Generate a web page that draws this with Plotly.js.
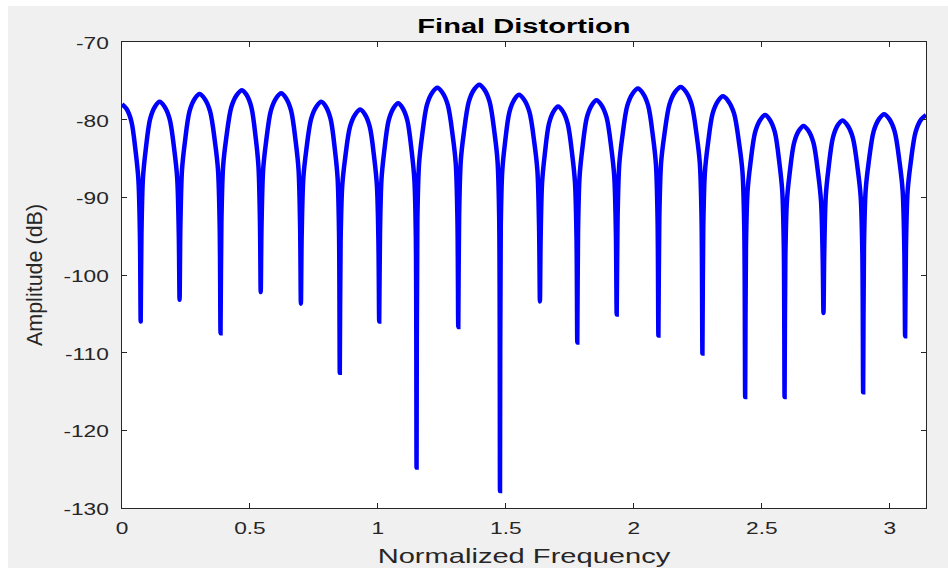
<!DOCTYPE html>
<html>
<head>
<meta charset="utf-8">
<script src="https://cdn.plot.ly/plotly-3.0.1.min.js"></script>
<style>
  html, body { margin: 0; padding: 0; background: #ffffff; width: 948px; height: 568px; overflow: hidden; }
  #chart { position: absolute; left: 8px; top: 6px; width: 940px; height: 562px; }
</style>
</head>
<body>
<div id="chart"></div>
<script>
// Normalized frequency (rad/sample)
const freq = [
  0, 0.0175, 0.0365, 0.054, 0.0642, 0.0701,
  0.073,
  0.0760, 0.0819, 0.0922, 0.110, 0.1292, 0.147, 0.1657, 0.186, 0.2047, 0.2156, 0.2219,
  0.225,
  0.2281, 0.2344, 0.2453, 0.264, 0.2843, 0.303, 0.3227, 0.344, 0.3637, 0.3752, 0.3817,
  0.385,
  0.3884, 0.3951, 0.4068, 0.427, 0.4488, 0.469, 0.4865, 0.5055, 0.523, 0.5332, 0.5391,
  0.542,
  0.5452, 0.5516, 0.5628, 0.582, 0.6028, 0.622, 0.6405, 0.6605, 0.679, 0.6898, 0.6959,
  0.699,
  0.7022, 0.7086, 0.7198, 0.739, 0.7598, 0.779, 0.7963, 0.815, 0.8323, 0.8424, 0.8481,
  0.851,
  0.8542, 0.8606, 0.8718, 0.891, 0.9118, 0.931, 0.9488, 0.968, 0.9858, 0.9961, 1.002,
  1.005,
  1.008, 1.0139, 1.0242, 1.042, 1.0612, 1.079, 1.0963, 1.115, 1.1323, 1.1424, 1.1481,
  1.151,
  1.1542, 1.1607, 1.1721, 1.1915, 1.2126, 1.232, 1.2517, 1.273, 1.2927, 1.3042, 1.3107,
  1.314,
  1.3173, 1.3238, 1.3353, 1.355, 1.3763, 1.396, 1.4154, 1.4365, 1.4559, 1.4673, 1.4738,
  1.477,
  1.480, 1.4859, 1.4962, 1.514, 1.5332, 1.551, 1.5707, 1.592, 1.6117, 1.6232, 1.6297,
  1.633,
  1.6358, 1.6415, 1.6515, 1.6685, 1.687, 1.704, 1.722, 1.7415, 1.7595, 1.770, 1.776,
  1.779,
  1.782, 1.788, 1.7985, 1.8165, 1.836, 1.854, 1.873, 1.8935, 1.9125, 1.9235, 1.9298,
  1.933,
  1.9363, 1.943, 1.9546, 1.9745, 1.9961, 2.016, 2.0352, 2.056, 2.0752, 2.0864, 2.0928,
  2.096,
  2.0995, 2.1064, 2.1186, 2.1395, 2.1621, 2.183, 2.2034, 2.2255, 2.2459, 2.2578, 2.2646,
  2.268,
  2.2712, 2.2776, 2.2888, 2.308, 2.3288, 2.348, 2.3689, 2.3915, 2.4124, 2.4246, 2.4315,
  2.435,
  2.4381, 2.4444, 2.4553, 2.474, 2.4943, 2.513, 2.5312, 2.551, 2.5692, 2.5799, 2.586,
  2.589,
  2.592, 2.5979, 2.6082, 2.626, 2.6452, 2.663, 2.6817, 2.702, 2.7207, 2.7316, 2.7379,
  2.741,
  2.744, 2.7499, 2.7602, 2.778, 2.7972, 2.815, 2.8344, 2.8555, 2.8749, 2.8863, 2.8928,
  2.896,
  2.8993, 2.9058, 2.9173, 2.937, 2.9583, 2.978, 2.9977, 3.019, 3.0387, 3.0502, 3.0567,
  3.060,
  3.0633, 3.0698, 3.0812, 3.1008, 3.122, 3.1416
];

// Amplitude (dB)
const ampDb = [
  -78.0, -78.6, -80.2, -84.3, -87.8, -95.0,
  -106.0,
  -94.7, -87.5, -84.0, -79.9, -78.3, -77.7, -78.3, -79.9, -84.0, -87.5, -94.7,
  -103.2,
  -93.7, -86.5, -83.0, -78.9, -77.3, -76.7, -77.3, -78.9, -83.0, -86.5, -93.7,
  -107.5,
  -93.2, -86.0, -82.5, -78.4, -76.8, -76.2, -76.8, -78.4, -82.5, -86.0, -93.2,
  -102.2,
  -93.6, -86.4, -82.9, -78.8, -77.2, -76.6, -77.2, -78.8, -82.9, -86.4, -93.6,
  -103.7,
  -94.7, -87.5, -84.0, -79.9, -78.3, -77.7, -78.3, -79.9, -84.0, -87.5, -94.7,
  -112.6,
  -95.7, -88.5, -85.0, -80.9, -79.3, -78.7, -79.3, -80.9, -85.0, -88.5, -95.7,
  -106.0,
  -94.9, -87.7, -84.2, -80.1, -78.5, -77.9, -78.5, -80.1, -84.2, -87.7, -94.9,
  -124.8,
  -92.9, -85.7, -82.2, -78.1, -76.5, -75.9, -76.5, -78.1, -82.2, -85.7, -92.9,
  -106.7,
  -92.5, -85.3, -81.8, -77.7, -76.1, -75.5, -76.1, -77.7, -81.8, -85.3, -92.5,
  -127.8,
  -93.8, -86.6, -83.1, -79.0, -77.4, -76.8, -77.4, -79.0, -83.1, -86.6, -93.8,
  -103.4,
  -95.3, -88.1, -84.6, -80.5, -78.9, -78.3, -78.9, -80.5, -84.6, -88.1, -95.3,
  -108.7,
  -94.5, -87.3, -83.8, -79.7, -78.1, -77.5, -78.1, -79.7, -83.8, -87.3, -94.5,
  -105.1,
  -93.0, -85.8, -82.3, -78.2, -76.6, -76.0, -76.6, -78.2, -82.3, -85.8, -93.0,
  -107.8,
  -92.8, -85.6, -82.1, -78.0, -76.4, -75.8, -76.4, -78.0, -82.1, -85.6, -92.8,
  -110.1,
  -94.0, -86.8, -83.3, -79.2, -77.6, -77.0, -77.6, -79.2, -83.3, -86.8, -94.0,
  -115.7,
  -96.4, -89.2, -85.7, -81.6, -80.0, -79.4, -80.0, -81.6, -85.7, -89.2, -96.4,
  -115.7,
  -97.8, -90.6, -87.1, -83.0, -81.4, -80.8, -81.4, -83.0, -87.1, -90.6, -97.8,
  -104.9,
  -97.1, -89.9, -86.4, -82.3, -80.7, -80.1, -80.7, -82.3, -86.4, -89.9, -97.1,
  -115.1,
  -96.3, -89.1, -85.6, -81.5, -79.9, -79.3, -79.9, -81.5, -85.6, -89.1, -96.3,
  -107.9,
  -96.4, -89.2, -85.7, -81.6, -80.0, -79.4
];

const xTickVals = [0, 0.5, 1, 1.5, 2, 2.5, 3];
const xTickText = ["0", "0.5", "1", "1.5", "2", "2.5", "3"];
const yTickVals = [-130, -120, -110, -100, -90, -80, -70];
const yTickText = ["-130", "-120", "-110", "-100", "-90", "-80", "-70"];

const FONT = "Liberation Sans, Arial, Helvetica, sans-serif";
const AXC = "#262626";

const trace = {
  x: freq,
  y: ampDb,
  type: "scatter",
  mode: "lines",
  line: { color: "#0000ff", width: 4.5, shape: "spline", smoothing: 0.9 },
  hoverinfo: "x+y"
};

const layout = {
  width: 940,
  height: 562,
  paper_bgcolor: "#f0f0f0",
  plot_bgcolor: "#ffffff",
  margin: { l: 114, r: 22, t: 36, b: 60 },
  showlegend: false,
  title: {
    text: "Final Distortion",
    font: { family: FONT, size: 20.5, color: "#000000", weight: 700 },
    xref: "paper", x: 0.5, xanchor: "center",
    yref: "container", y: 1 - 19.5 / 562, yanchor: "middle"
  },
  xaxis: {
    range: [0, Math.PI],
    tickvals: xTickVals,
    ticktext: xTickText,
    ticks: "inside",
    ticklen: 5,
    tickcolor: AXC,
    tickwidth: 1,
    showline: true,
    linecolor: AXC,
    linewidth: 1,
    mirror: "ticks",
    showgrid: false,
    zeroline: false,
    ticklabelstandoff: 6,
    tickfont: { family: FONT, size: 16, color: AXC },
    title: { text: "Normalized Frequency", font: { family: FONT, size: 20.5, color: AXC }, standoff: 12 }
  },
  yaxis: {
    range: [-130, -70],
    tickvals: yTickVals,
    ticktext: yTickText,
    ticks: "inside",
    ticklen: 5,
    tickcolor: AXC,
    tickwidth: 1,
    showline: true,
    linecolor: AXC,
    linewidth: 1,
    mirror: "ticks",
    showgrid: false,
    zeroline: false,
    ticklabelstandoff: 9,
    tickfont: { family: FONT, size: 16, color: AXC },
    title: { text: "Amplitude (dB)", font: { family: FONT, size: 21.5, color: AXC }, standoff: 28 }
  }
};

// horizontal text in the reference is drawn wider than normal; stretch it in x
const STRETCH = 1.42;
function stretchText(gd) {
  const els = gd.querySelectorAll(".xtick text, .ytick text, .gtitle, .xtitle");
  els.forEach(function (el) {
    const ax = parseFloat(el.getAttribute("x")) || 0;
    const t = el.getAttribute("transform") || "";
    const dy = el.closest(".ytick") ? 1.5 : 0;
    el.setAttribute("transform", t + " translate(" + ax + "," + dy + ") scale(" + STRETCH + ",1) translate(" + (-ax) + ",0)");
  });
}

Plotly.newPlot("chart", [trace], layout, { displayModeBar: false, staticPlot: true })
  .then(stretchText);
</script>
</body>
</html>
